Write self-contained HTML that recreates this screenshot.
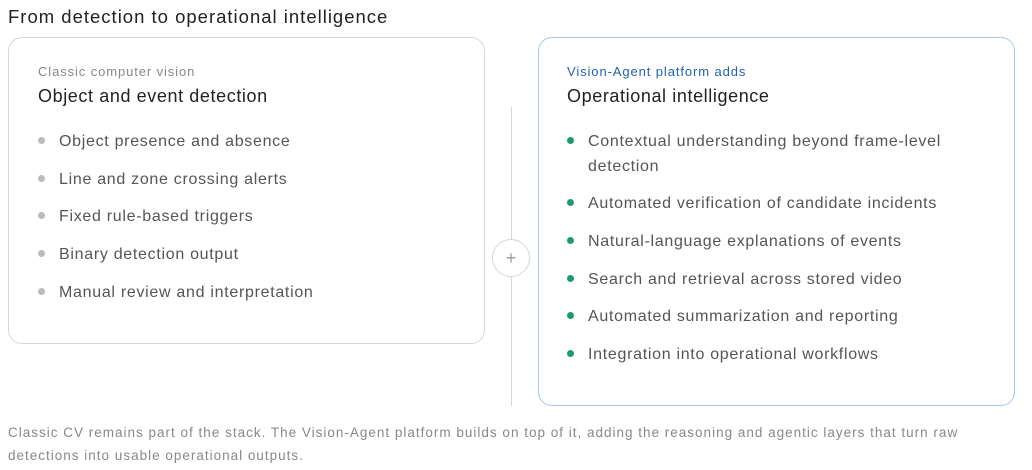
<!DOCTYPE html>
<html><head><style>
body{margin:0;width:1032px;height:470px;background:#fff;font-family:"Liberation Sans","DejaVu Sans",sans-serif;position:relative;overflow:hidden}
.a{position:absolute;white-space:nowrap}
.box{position:absolute;border-radius:14px;box-sizing:border-box}
.it{position:absolute;font-size:16px;color:#555;line-height:25px;letter-spacing:0.7px;white-space:nowrap}
.dot{position:absolute;width:7px;height:7px;border-radius:50%}
</style></head><body>
<div class="a" style="left:8px;top:6px;font-size:18.5px;color:#222;letter-spacing:1px">From detection to operational intelligence</div>
<div class="box" style="left:8px;top:37px;width:477px;height:307px;border:1px solid #d6d6d6"></div>
<div class="box" style="left:538px;top:37px;width:477px;height:369px;border:1px solid #a9c8ec"></div>
<div class="a" style="left:511px;top:107px;width:1px;height:299px;background:#d6d6d6"></div>
<div class="a" style="left:492px;top:239px;width:36px;height:36px;border:1px solid #d6d6d6;border-radius:50%;background:#fff;text-align:center;line-height:36px;font-size:18px;color:#999">+</div>

<div class="a" style="left:38px;top:64px;font-size:13px;color:#888;letter-spacing:0.9px">Classic computer vision</div>
<div class="a" style="left:38px;top:86px;font-size:18px;color:#222;letter-spacing:0.6px">Object and event detection</div>
<div class="dot" style="left:38px;top:137px;background:#bbb"></div><div class="it" style="left:59px;top:129px">Object presence and absence</div>
<div class="dot" style="left:38px;top:175px;background:#bbb"></div><div class="it" style="left:59px;top:167px">Line and zone crossing alerts</div>
<div class="dot" style="left:38px;top:212px;background:#bbb"></div><div class="it" style="left:59px;top:204px">Fixed rule-based triggers</div>
<div class="dot" style="left:38px;top:250px;background:#bbb"></div><div class="it" style="left:59px;top:242px">Binary detection output</div>
<div class="dot" style="left:38px;top:288px;background:#bbb"></div><div class="it" style="left:59px;top:280px">Manual review and interpretation</div>

<div class="a" style="left:567px;top:64px;font-size:13px;color:#1f63ad;letter-spacing:0.9px">Vision-Agent platform adds</div>
<div class="a" style="left:567px;top:86px;font-size:18px;color:#222;letter-spacing:0.6px">Operational intelligence</div>
<div class="dot" style="left:567px;top:137px;background:#1f9a6e"></div><div class="it" style="left:588px;top:129px">Contextual understanding beyond frame-level<br>detection</div>
<div class="dot" style="left:567px;top:199px;background:#1f9a6e"></div><div class="it" style="left:588px;top:191px">Automated verification of candidate incidents</div>
<div class="dot" style="left:567px;top:237px;background:#1f9a6e"></div><div class="it" style="left:588px;top:229px">Natural-language explanations of events</div>
<div class="dot" style="left:567px;top:275px;background:#1f9a6e"></div><div class="it" style="left:588px;top:267px">Search and retrieval across stored video</div>
<div class="dot" style="left:567px;top:312px;background:#1f9a6e"></div><div class="it" style="left:588px;top:304px">Automated summarization and reporting</div>
<div class="dot" style="left:567px;top:350px;background:#1f9a6e"></div><div class="it" style="left:588px;top:342px">Integration into operational workflows</div>

<div class="a" style="left:8px;top:421px;font-size:13.5px;color:#888;line-height:23px;letter-spacing:1px">Classic CV remains part of the stack. The Vision-Agent platform builds on top of it, adding the reasoning and agentic layers that turn raw<br>detections into usable operational outputs.</div>
</body></html>
